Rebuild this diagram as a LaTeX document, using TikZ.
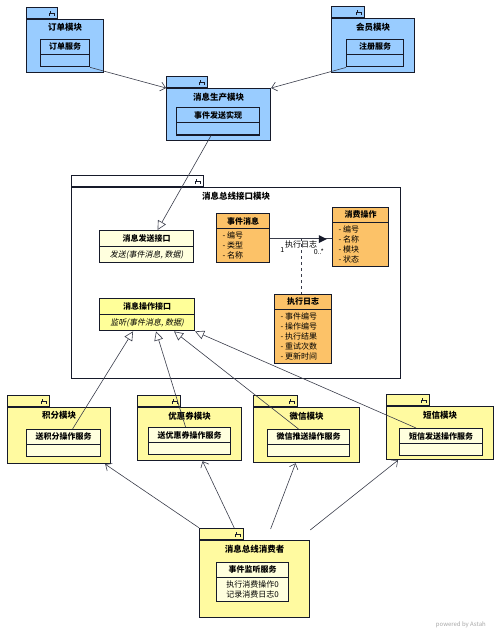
\documentclass[tikz,border=0pt]{standalone}
\usepackage{fontspec}
\setmainfont{Noto Sans CJK SC}[AutoFakeSlant=0.2]
\usetikzlibrary{positioning,shapes.multipart,arrows.meta,calc}

\definecolor{pkgblue}{RGB}{153,204,255}
\definecolor{pkgyellow}{RGB}{255,250,160}
\definecolor{clscream}{RGB}{255,255,222}
\definecolor{clsyellow}{RGB}{255,255,153}
\definecolor{clsorange}{RGB}{252,194,104}
\definecolor{umlline}{RGB}{22,26,42}

\tikzset{
  pkgbody/.style={rectangle,draw=umlline,line width=1.2pt,fill=#1,anchor=north west,inner sep=0pt},
  pkgtab/.style={rectangle,draw=umlline,line width=1.2pt,fill=#1,anchor=south west,inner sep=0pt,minimum height=11pt},
  pkgtitle/.style={font=\bfseries\fontsize{8.5}{9}\selectfont,inner sep=1pt},
  cls/.style={rectangle split,rectangle split parts=2,draw=umlline,line width=1.1pt,fill=#1,
    anchor=north west,inner xsep=6pt,inner ysep=3pt,align=left,
    rectangle split empty part height=0pt,rectangle split empty part depth=0pt,
    font=\fontsize{8}{10}\selectfont},
  opena/.style={draw=umlline!85,line width=.6pt,-{Straight Barb[length=5pt,width=9pt]}},
  realize/.style={draw=umlline!85,line width=.6pt,-{Triangle[length=9pt,width=9pt,fill=white]}},
}

% package icon in the tab
\newcommand{\pkgicon}[1]{%
  \draw[umlline,line width=.6pt] ([xshift=-9pt,yshift=3pt]#1.south east) -- ++(0,3pt) -- ++(5pt,0) -- ++(0,-3pt);
  \draw[umlline,line width=.6pt] ([xshift=-8pt,yshift=6pt]#1.south east) -- ++(0,2pt);
}

\begin{document}
\begin{tikzpicture}[x=1pt,y=-1pt]
  \useasboundingbox (0,0) rectangle (500,634);

  % producer side modules
  \node[pkgbody=pkgblue,minimum width=77pt,minimum height=53pt] (ordbody) at (26,19) {};
  \node[pkgtab=pkgblue,minimum width=31pt] (ordtab) at (ordbody.north west) {};
  \pkgicon{ordtab}
  \node[pkgtitle,below=3.5pt of ordbody.north] (ordtitle) {订单模块};
  \node[cls=pkgblue,minimum width=49pt,rectangle split part align=center] (ordsvc) at (40,39) {\textbf{订单服务}\nodepart{two}};

  \node[pkgbody=pkgblue,minimum width=83pt,minimum height=54pt] (regbody) at (331,18) {};
  \node[pkgtab=pkgblue,minimum width=33pt] (regtab) at (regbody.north west) {};
  \pkgicon{regtab}
  \node[pkgtitle,below=3.5pt of regbody.north] (regtitle) {会员模块};
  \node[cls=pkgblue,minimum width=57pt,rectangle split part align=center] (regsvc) at (346,39) {\textbf{注册服务}\nodepart{two}};

  \node[pkgbody=pkgblue,minimum width=104pt,minimum height=52pt] (prodbody) at (166,88) {};
  \node[pkgtab=pkgblue,minimum width=41pt] (prodtab) at (prodbody.north west) {};
  \pkgicon{prodtab}
  \node[pkgtitle,below=3.5pt of prodbody.north] (prodtitle) {消息生产模块};
  \node[cls=pkgblue,minimum width=83pt,rectangle split part align=center] (sendimpl) at (176,107) {\textbf{事件发送实现}\nodepart{two}};

  % bus interface module
  \node[pkgbody=white,minimum width=329pt,minimum height=191pt] (busbody) at (71,187) {};
  \node[pkgtab=white,minimum width=132pt] (bustab) at (busbody.north west) {};
  \pkgicon{bustab}
  \node[pkgtitle,below=3.5pt of busbody.north] (bustitle) {消息总线接口模块};

  \node[cls=clscream,minimum width=94pt,rectangle split part align=center,inner ysep=3.5pt] (sendif) at (99,230)
    {\textbf{消息发送接口}\nodepart{two}\textit{发送(事件消息, 数据)}};
  \node[cls=clsyellow,minimum width=95pt,rectangle split part align=center,inner ysep=3.5pt] (opif) at (99,298)
    {\textbf{消息操作接口}\nodepart{two}\textit{监听(事件消息, 数据)}};
  \node[cls=clsorange,minimum width=53pt,rectangle split part align={center,left}] (evmsg) at (216,213)
    {\textbf{事件消息}\nodepart{two}- 编号\\- 类型\\- 名称};
  \node[cls=clsorange,minimum width=56pt,rectangle split part align={center,left}] (conop) at (332,207)
    {\textbf{消费操作}\nodepart{two}- 编号\\- 名称\\- 模块\\- 状态};
  \node[cls=clsorange,minimum width=57pt,rectangle split part align={center,left}] (logcls) at (274,294)
    {\textbf{执行日志}\nodepart{two}- 事件编号\\- 操作编号\\- 执行结果\\- 重试次数\\- 更新时间};

  % association with log class
  \draw[umlline!85,line width=.6pt] (evmsg.east) -- coordinate[pos=0.5] (asmid) (evmsg.east -| conop.west);
  \draw[umlline!85,line width=.6pt,dashed] (asmid) -- (asmid |- logcls.north);
  \node[font=\fontsize{8}{9}\selectfont,inner sep=0pt,below=2pt of asmid] (aslbl) {执行日志};
  \fill[umlline] ([xshift=1.5pt,yshift=1pt]aslbl.east) -- ++(0,8pt) -- ++(8pt,-4pt) -- cycle;
  \node[font=\fontsize{7}{8}\selectfont,inner sep=0pt,below right=9pt and 10pt of evmsg.east] (mult1) {1};
  \node[font=\fontsize{7}{8}\selectfont,inner sep=0pt,below left=12pt and 8pt of conop.west] (mult2) {0..*};

  % consumer side modules
  \node[pkgbody=pkgyellow,minimum width=103pt,minimum height=56pt] (jfbody) at (7,407) {};
  \node[pkgtab=pkgyellow,minimum width=42pt] (jftab) at (jfbody.north west) {};
  \pkgicon{jftab}
  \node[pkgtitle,below=3.5pt of jfbody.north] (jftitle) {积分模块};
  \node[cls=clscream,minimum width=74pt,rectangle split part align=center] (jfsvc) at (26,429) {\textbf{送积分操作服务}\nodepart{two}};

  \node[pkgbody=pkgyellow,minimum width=104pt,minimum height=53pt] (yhbody) at (137,407) {};
  \node[pkgtab=pkgyellow,minimum width=43pt] (yhtab) at (yhbody.north west) {};
  \pkgicon{yhtab}
  \node[pkgtitle,below=3.5pt of yhbody.north] (yhtitle) {优惠券模块};
  \node[cls=clscream,minimum width=82pt,rectangle split part align=center] (yhsvc) at (148,427) {\textbf{送优惠券操作服务}\nodepart{two}};

  \node[pkgbody=pkgyellow,minimum width=106pt,minimum height=55pt] (wxbody) at (253,407) {};
  \node[pkgtab=pkgyellow,minimum width=44pt] (wxtab) at (wxbody.north west) {};
  \pkgicon{wxtab}
  \node[pkgtitle,below=3.5pt of wxbody.north] (wxtitle) {微信模块};
  \node[cls=clscream,minimum width=82pt,rectangle split part align=center] (wxsvc) at (267,429) {\textbf{微信推送操作服务}\nodepart{two}};

  \node[pkgbody=pkgyellow,minimum width=107pt,minimum height=53pt] (dxbody) at (386,406) {};
  \node[pkgtab=pkgyellow,minimum width=43pt] (dxtab) at (dxbody.north west) {};
  \pkgicon{dxtab}
  \node[pkgtitle,below=3.5pt of dxbody.north] (dxtitle) {短信模块};
  \node[cls=clscream,minimum width=83pt,rectangle split part align=center] (dxsvc) at (399,428) {\textbf{短信发送操作服务}\nodepart{two}};

  \node[pkgbody=pkgyellow,minimum width=110pt,minimum height=77pt] (consbody) at (199,540) {};
  \node[pkgtab=pkgyellow,minimum width=44pt] (constab) at (consbody.north west) {};
  \pkgicon{constab}
  \node[pkgtitle,below=3.5pt of consbody.north] (constitle) {消息总线消费者};
  \node[cls=clscream,minimum width=72pt,rectangle split part align=center] (listensvc) at (216,562)
    {\textbf{事件监听服务}\nodepart{two}执行消费操作0\\记录消费日志0};

  % producer -> producer module
  \draw[opena] (ordsvc.south east) -- (prodbody.north west);
  \draw[opena] (regsvc.south west) -- (prodbody.north east);
  \draw[realize] ([xshift=-7pt]sendimpl.south) -- ([xshift=11pt]sendif.north);

  % operation services -> operation interface
  \draw[realize] ([xshift=9pt]jfsvc.north) -- ([xshift=-14pt]opif.south);
  \draw[realize] ([xshift=-4pt]yhsvc.north) -- ([xshift=9pt]opif.south);
  \draw[realize] ([xshift=-10pt]wxsvc.north) -- ([xshift=27pt]opif.south);
  \draw[realize] ([xshift=-25pt]dxsvc.north) -- (opif.south east);

  % consumer -> operation modules
  \draw[opena] (constab.north west) -- ([xshift=-6pt]jfbody.south east);
  \draw[opena] ([xshift=-10pt]constab.north east) -- ([xshift=13pt]yhbody.south);
  \draw[opena] ([xshift=16pt,yshift=11pt]consbody.north) -- ([xshift=-11pt]wxbody.south);
  \draw[opena] ([yshift=10pt]consbody.north east) -- ([xshift=12pt]dxbody.south west);

  % watermark
  \node[text=black!35,font=\fontsize{6}{7}\selectfont,anchor=east,inner sep=0pt] (wmark) at (486,625) {powered by Astah};
\end{tikzpicture}
\end{document}
